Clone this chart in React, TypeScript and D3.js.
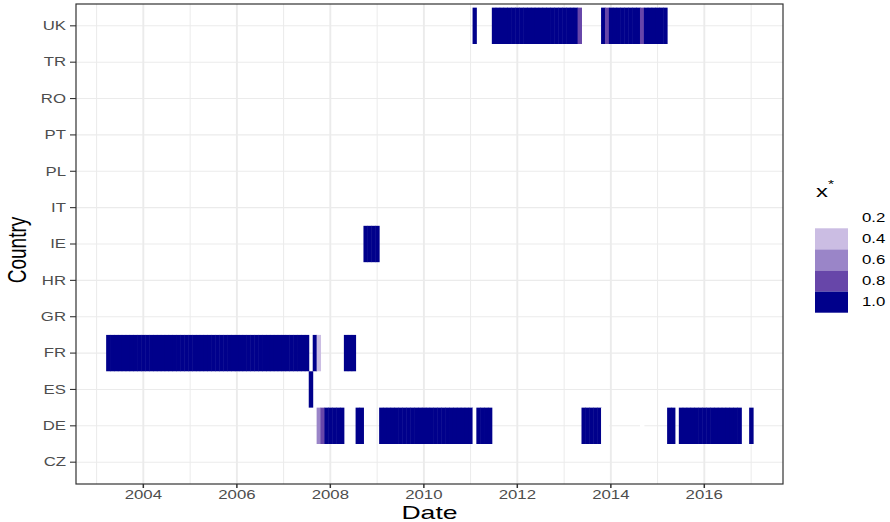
import React from "react";
import * as d3 from "d3";

// Country rows, bottom to top
const COUNTRIES = ["CZ", "DE", "ES", "FR", "GR", "HR", "IE", "IT", "PL", "PT", "RO", "TR", "UK"];

// Runs of consecutive monthly observations: [first month, last month, x* level]
type Run = [string, string, number];
const UK_RUNS: Run[] = [
  ["2011-02", "2011-02", 1.0],
  ["2011-07", "2013-04", 1.0],
  ["2013-05", "2013-05", 0.8],
  ["2013-11", "2013-11", 1.0],
  ["2013-12", "2013-12", 0.8],
  ["2014-01", "2014-08", 1.0],
  ["2014-09", "2014-09", 0.8],
  ["2014-10", "2015-03", 1.0],
];
const FR_RUNS: Run[] = [
  ["2003-04", "2007-07", 1.0],
  ["2007-09", "2007-09", 1.0],
  ["2007-10", "2007-10", 0.4],
  ["2008-05", "2008-07", 1.0],
];
const ES_RUNS: Run[] = [["2007-08", "2007-08", 1.0]];
const IE_RUNS: Run[] = [["2008-10", "2009-01", 1.0]];
const DE_RUNS: Run[] = [
  ["2007-10", "2007-10", 0.6],
  ["2007-11", "2007-11", 0.8],
  ["2007-12", "2008-04", 1.0],
  ["2008-08", "2008-09", 1.0],
  ["2009-02", "2011-01", 1.0],
  ["2011-02", "2011-02", 0.2],
  ["2011-03", "2011-06", 1.0],
  ["2013-06", "2013-10", 1.0],
  ["2013-11", "2013-12", 0.2],
  ["2014-09", "2014-09", 0.2],
  ["2015-04", "2015-05", 1.0],
  ["2015-07", "2016-10", 1.0],
  ["2017-01", "2017-01", 1.0],
];
const RUNS_BY_COUNTRY: Record<string, Run[]> = {
  UK: UK_RUNS,
  FR: FR_RUNS,
  ES: ES_RUNS,
  IE: IE_RUNS,
  DE: DE_RUNS,
};

// x* levels and their fills
const LEVELS = [0.2, 0.4, 0.6, 0.8, 1.0];
const LEVEL_COLORS = ["#ffffff", "#cbbde3", "#9a85c8", "#6746a9", "#00008b"];

const MAJOR_YEARS = [2004, 2006, 2008, 2010, 2012, 2014, 2016];
const MINOR_YEARS = [2003, 2005, 2007, 2009, 2011, 2013, 2015, 2017];
const X_DOMAIN = [new Date(Date.UTC(2002, 6, 24)), new Date(Date.UTC(2017, 8, 7))];

const W = 890;
const H = 522;
const PANEL = { left: 76, right: 783, top: 4, bottom: 484 };
const SX = 1.4; // horizontal text stretch
const FONT = "'Liberation Sans', Arial, Helvetica, sans-serif";

type Tile = { country: string; date: Date; level: number };

function expandRuns(): Tile[] {
  const tiles: Tile[] = [];
  for (const country of Object.keys(RUNS_BY_COUNTRY)) {
    for (const [a, b, level] of RUNS_BY_COUNTRY[country]) {
      const [ya, ma] = a.split("-").map(Number);
      const [yb, mb] = b.split("-").map(Number);
      const start = new Date(Date.UTC(ya, ma - 1, 1));
      const stop = new Date(Date.UTC(yb, mb - 1, 1));
      const months = d3.utcMonth.range(start, d3.utcMonth.offset(stop, 1));
      for (const date of months) tiles.push({ country, date, level });
    }
  }
  return tiles;
}

function SText(props: {
  x: number;
  y: number;
  anchor?: "start" | "middle" | "end";
  size: number;
  fill?: string;
  rotate?: number;
  children: React.ReactNode;
}) {
  const { x, y, anchor = "start", size, fill = "#000", rotate = 0, children } = props;
  return (
    <text
      transform={`translate(${x},${y}) scale(${SX},1)${rotate ? ` rotate(${rotate})` : ""}`}
      textAnchor={anchor}
      fontSize={size}
      fontFamily={FONT}
      fill={fill}
    >
      {children}
    </text>
  );
}

export default function App() {
  const x = d3.scaleUtc().domain(X_DOMAIN).range([PANEL.left, PANEL.right]);
  const y = d3
    .scalePoint<string>()
    .domain(COUNTRIES)
    .range([PANEL.bottom, PANEL.top])
    .padding(0.6);
  const step = y.step();
  const color = d3.scaleOrdinal<number, string>().domain(LEVELS).range(LEVEL_COLORS);
  const tiles = expandRuns();
  const yearX = (yr: number) => x(new Date(Date.UTC(yr, 0, 1)));
  // tile edges sit halfway between consecutive monthly dates
  const edge = (a: Date, b: Date) => (x(a) + x(b)) / 2;
  const overlap = 0.5; // slight overlap hides hairline seams between neighbours

  const legendX = 815;
  const keyW = 33;
  const keyH = 21.1;
  const keyTop = 207.2;

  return (
    <svg
      width={W}
      height={H}
      style={{ position: "absolute", left: 0, top: 0, background: "#fff" }}
    >
      <rect x={0} y={0} width={W} height={H} fill="#fff" />
      {/* grid */}
      <g stroke="#ebebeb" fill="none">
        {MINOR_YEARS.map((yr) => (
          <line key={"mn" + yr} x1={yearX(yr)} x2={yearX(yr)} y1={PANEL.top} y2={PANEL.bottom} strokeWidth={1.0} />
        ))}
        {MAJOR_YEARS.map((yr) => (
          <line key={"mj" + yr} x1={yearX(yr)} x2={yearX(yr)} y1={PANEL.top} y2={PANEL.bottom} strokeWidth={1.9} />
        ))}
        {COUNTRIES.map((c) => (
          <line key={"h" + c} x1={PANEL.left} x2={PANEL.right} y1={y(c)!} y2={y(c)!} strokeWidth={1.1} />
        ))}
      </g>
      {/* monthly tiles */}
      <g>
        {tiles.map((t, i) => {
          const x0 = edge(d3.utcMonth.offset(t.date, -1), t.date);
          const x1 = edge(t.date, d3.utcMonth.offset(t.date, 1));
          const yc = y(t.country)!;
          return (
            <rect
              key={i}
              x={x0}
              y={yc - step / 2}
              width={x1 - x0 + overlap}
              height={step}
              fill={color(t.level)}
            />
          );
        })}
      </g>
      {/* panel border */}
      <rect
        x={PANEL.left}
        y={PANEL.top}
        width={PANEL.right - PANEL.left}
        height={PANEL.bottom - PANEL.top}
        fill="none"
        stroke="#333333"
        strokeWidth={1.2}
      />
      {/* x axis */}
      <g>
        {MAJOR_YEARS.map((yr) => (
          <g key={"xt" + yr}>
            <line x1={yearX(yr)} x2={yearX(yr)} y1={PANEL.bottom} y2={PANEL.bottom + 4} stroke="#333333" strokeWidth={1.5} />
            <SText x={yearX(yr)} y={499} anchor="middle" size={12} fill="#4d4d4d">
              {String(yr)}
            </SText>
          </g>
        ))}
      </g>
      {/* y axis */}
      <g>
        {COUNTRIES.map((c) => (
          <g key={"yt" + c}>
            <line x1={PANEL.left - 6} x2={PANEL.left} y1={y(c)!} y2={y(c)!} stroke="#333333" strokeWidth={1.1} />
            <SText x={PANEL.left - 10} y={y(c)! + 4.3} anchor="end" size={12} fill="#4d4d4d">
              {c}
            </SText>
          </g>
        ))}
      </g>
      {/* axis titles */}
      <SText x={(PANEL.left + PANEL.right) / 2} y={519} anchor="middle" size={19}>
        Date
      </SText>
      <SText x={26} y={250} anchor="middle" size={19} rotate={-90}>
        Country
      </SText>
      {/* legend */}
      <g>
        <SText x={legendX + 1} y={197} size={17}>
          x
        </SText>
        <SText x={legendX + 13} y={188} size={11}>
          *
        </SText>
        {LEVELS.map((lv, i) => (
          <g key={"lg" + lv}>
            <rect x={legendX} y={keyTop + i * keyH} width={keyW} height={keyH} fill={color(lv)} />
            <SText x={legendX + 47} y={keyTop + i * keyH + keyH / 2 + 4.3} size={12}>
              {lv.toFixed(1)}
            </SText>
          </g>
        ))}
      </g>
    </svg>
  );
}
